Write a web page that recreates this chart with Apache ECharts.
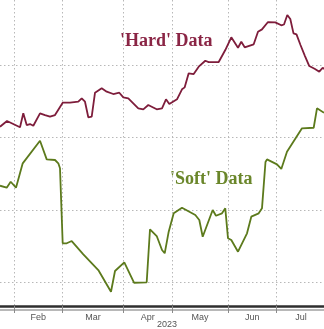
<!DOCTYPE html>
<html>
<head>
<meta charset="utf-8">
<script src="https://cdn.jsdelivr.net/npm/echarts@6/dist/echarts.min.js"></script>
<style>
  html, body { margin: 0; padding: 0; background: #ffffff; }
  #chart { width: 324px; height: 329px; }
</style>
</head>
<body>
<div id="chart"></div>
<script>
// x = business-day index from 1 Feb 2023; y = index level
const monthNames = ['Feb', 'Mar', 'Apr', 'May', 'Jun', 'Jul'];
const monthStarts = [0, 20, 45, 65, 88, 108];
const monthMids = [10, 32.5, 55, 76.5, 98, 118];
const gridLevels = [-1, 0, 1, 2];
const yearLabel = '2023';

const hardX = [-5.76, -2.88, 2.47, 3.82, 5.22, 6.58, 7.94, 10.69, 12.75, 14.80, 16.86, 20.02, 23.03, 26.44, 27.84, 29.19, 30.55, 31.95, 33.31, 36.06, 38.12, 40.83, 43.30, 44.94, 47.00, 49.05, 51.11, 53.17, 55.22, 56.62, 58.68, 60.86, 62.50, 63.86, 67.02, 69.08, 70.19, 71.83, 73.89, 75.95, 78.66, 80.06, 84.17, 86.88, 89.35, 92.11, 93.46, 94.86, 98.56, 100.33, 101.97, 104.44, 107.44, 109.91, 111.02, 112.38, 113.61, 114.93, 116.16, 117.80, 119.65, 121.42, 123.77, 125.53, 126.93, 127.47];
const hardY = [1.149, 1.228, 1.141, 1.334, 1.172, 1.186, 1.163, 1.334, 1.310, 1.287, 1.310, 1.480, 1.480, 1.494, 1.541, 1.494, 1.279, 1.287, 1.618, 1.679, 1.632, 1.600, 1.618, 1.554, 1.541, 1.472, 1.403, 1.389, 1.448, 1.425, 1.389, 1.403, 1.527, 1.462, 1.527, 1.665, 1.692, 1.886, 1.876, 1.977, 2.059, 2.041, 2.041, 2.207, 2.382, 2.239, 2.321, 2.244, 2.286, 2.459, 2.492, 2.593, 2.589, 2.548, 2.559, 2.690, 2.634, 2.437, 2.423, 2.276, 2.124, 1.986, 1.945, 1.908, 1.963, 1.945];

const softX = [-5.76, -3.00, -1.36, 0.82, 3.58, 10.69, 13.45, 16.86, 18.22, 18.91, 20.02, 21.67, 23.73, 28.50, 34.66, 39.88, 41.53, 45.35, 49.34, 54.56, 55.92, 58.68, 60.86, 61.97, 63.61, 65.67, 69.08, 74.55, 76.19, 77.59, 81.70, 83.06, 85.53, 86.88, 87.99, 89.35, 92.11, 95.81, 97.57, 100.62, 101.97, 103.41, 104.03, 108.14, 109.91, 112.25, 118.42, 123.23, 124.59, 127.47];
const softY = [0.335, 0.308, 0.390, 0.308, 0.644, 0.956, 0.699, 0.690, 0.644, 0.575, -0.459, -0.459, -0.428, -0.611, -0.828, -1.127, -0.841, -0.721, -1.003, -0.997, -0.266, -0.359, -0.552, -0.597, -0.299, -0.046, 0.032, -0.069, -0.138, -0.368, 0.000, -0.079, -0.046, 0.023, -0.390, -0.414, -0.575, -0.321, -0.092, -0.046, 0.023, 0.662, 0.699, 0.630, 0.566, 0.804, 1.127, 1.135, 1.403, 1.342];

const seriesNames = ["'Hard' Data", "'Soft' Data"];

const hardColor = '#7e1d3b';
const softColor = '#5c7a1c';

const chart = echarts.init(document.getElementById('chart'), null, { renderer: 'canvas' });

const xMin = -5.76, xMax = 127.47;

chart.setOption({
  animation: false,
  backgroundColor: '#ffffff',
  grid: { left: 0, right: 0, top: 0, bottom: 23, containLabel: false },
  xAxis: [
    {
      type: 'value', min: xMin, max: xMax, position: 'bottom',
      axisLine: { show: true, onZero: false, lineStyle: { color: '#2e2e2e', width: 2.5 } },
      axisTick: { show: true, customValues: monthStarts, length: 7, lineStyle: { color: '#8a8a8a', width: 1 } },
      axisLabel: {
        show: true, customValues: monthMids, margin: 7,
        fontFamily: 'Arial, Liberation Sans, sans-serif', fontSize: 9, color: '#555555',
        formatter: function (v) { const k = monthMids.indexOf(v); return k >= 0 ? monthNames[k] : ''; }
      },
      splitLine: { show: true, lineStyle: { color: '#b8b8b8', width: 1, type: [1.5, 2.5] } }
    },
    {
      type: 'value', min: xMin, max: xMax, position: 'bottom', offset: 4,
      axisLine: { show: true, onZero: false, lineStyle: { color: '#a0a0a0', width: 1.5 } },
      axisTick: { show: false }, axisLabel: { show: false }, splitLine: { show: false }
    }
  ],
  yAxis: {
    type: 'value', min: -1.324, max: 2.897,
    axisLine: { show: false }, axisLabel: { show: false },
    axisTick: { show: false, customValues: gridLevels },
    splitLine: { show: true, lineStyle: { color: '#b8b8b8', width: 1, type: [1.5, 2.5] } }
  },
  series: [
    {
      name: seriesNames[0], type: 'line', xAxisIndex: 0,
      data: hardX.map((x, k) => [x, hardY[k]]),
      showSymbol: false, symbol: 'none',
      lineStyle: { color: hardColor, width: 1.8 }
    },
    {
      name: seriesNames[1], type: 'line', xAxisIndex: 0,
      data: softX.map((x, k) => [x, softY[k]]),
      showSymbol: false, symbol: 'none',
      lineStyle: { color: softColor, width: 1.8 }
    }
  ],
  graphic: [
    { type: 'text', left: 120, top: 32, style: { text: seriesNames[0], font: 'bold 18px "Liberation Serif", "DejaVu Serif", serif', fill: '#8a2545' } },
    { type: 'text', left: 170, top: 170, style: { text: seriesNames[1], font: 'bold 18px "Liberation Serif", "DejaVu Serif", serif', fill: '#6a862a' } },
    { type: 'text', left: 157, top: 320, style: { text: yearLabel, font: '9px Arial, "Liberation Sans", sans-serif', fill: '#555555' } }
  ]
});
</script>
</body>
</html>
